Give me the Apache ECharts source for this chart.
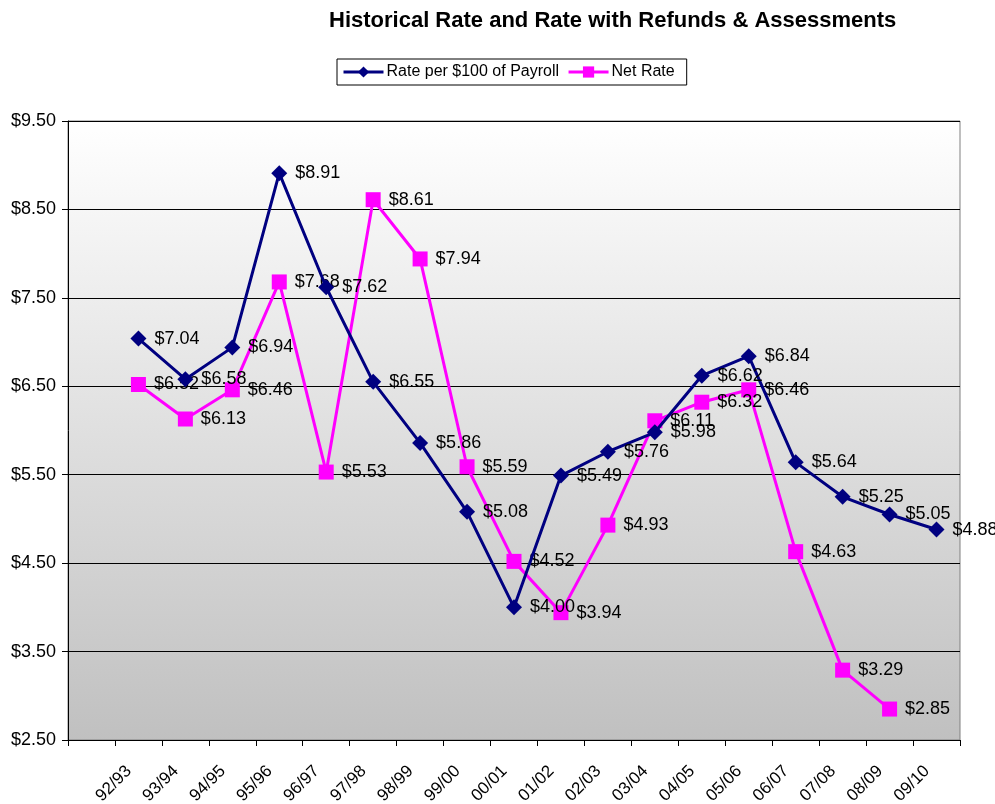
<!DOCTYPE html>
<html>
<head>
<meta charset="utf-8">
<script src="https://cdn.jsdelivr.net/npm/echarts@6/dist/echarts.min.js"></script>
<style>
html,body{margin:0;padding:0;background:#fff;}
#chart{width:995px;height:804px;}
</style>
</head>
<body>
<div id="chart"></div>
<script>
const categories = ['92/93','93/94','94/95','95/96','96/97','97/98','98/99','99/00','00/01','01/02','02/03','03/04','04/05','05/06','06/07','07/08','08/09','09/10'];
const rateValues = [7.04,6.58,6.94,8.91,7.62,6.55,5.86,5.08,4.00,5.49,5.76,5.98,6.62,6.84,5.64,5.25,5.05,4.88];
const netValues  = [6.52,6.13,6.46,7.68,5.53,8.61,7.94,5.59,4.52,3.94,4.93,6.11,6.32,6.46,4.63,3.29,2.85,null];
const yTicks = [2.5,3.5,4.5,5.5,6.5,7.5,8.5,9.5];

const FONT = 'Liberation Sans, Arial, sans-serif';
// leading empty slot (the reference leaves the first category empty)
const cats = [''].concat(categories);
const rateData = [null].concat(rateValues);
const netData = [null].concat(netValues);

const chart = echarts.init(document.getElementById('chart'), null, {renderer:'canvas'});
const labelCfg = {
  show: true, position: 'right', distance: 8,
  color: '#000', fontSize: 18, fontFamily: FONT,
  formatter: p => '$' + Number(p.value).toFixed(2)
};
chart.setOption({
  backgroundColor: '#fff',
  animation: false,
  title: {
    text: 'Historical Rate and Rate with Refunds & Assessments',
    left: 324, top: 5,
    textStyle: {fontFamily: FONT, fontWeight: 'bold', fontSize: 22, color: '#000'}
  },
  legend: {
    top: 59, left: 337,
    padding: [5, 12, 5, 5],
    itemGap: 8,
    itemWidth: 40, itemHeight: 14,
    borderColor: '#000', borderWidth: 1,
    backgroundColor: '#fff',
    lineStyle: {width: 3},
    textStyle: {fontFamily: FONT, fontSize: 16, color: '#000', padding: [0,0,0,-2]},
    data: ['Rate per $100 of Payroll', 'Net Rate']
  },
  grid: {
    left: 68, right: 35, top: 121, bottom: 64,
    containLabel: false,
    outerBoundsMode: 'none',
    show: true,
    borderColor: '#808080', borderWidth: 1,
    backgroundColor: new echarts.graphic.LinearGradient(0,0,0,1,[
      {offset:0, color:'#ffffff'},
      {offset:1, color:'#c0c0c0'}
    ])
  },
  xAxis: {
    type: 'category',
    data: cats,
    boundaryGap: true,
    axisLine: {lineStyle: {color: '#000', width: 1}},
    axisTick: {show: true, interval: 0, length: 6, lineStyle: {color:'#000'}},
    axisLabel: {
      interval: 0, rotate: 45, margin: 31,
      verticalAlign: 'bottom',
      padding: [0, 5, 0, 0],
      color: '#000', fontSize: 17, fontFamily: FONT
    },
    splitLine: {show: false}
  },
  yAxis: {
    type: 'value',
    min: yTicks[0], max: yTicks[yTicks.length-1], interval: 1,
    axisLine: {show: true, lineStyle: {color: '#000', width: 1}},
    axisTick: {show: true, length: 6, lineStyle: {color:'#000'}},
    axisLabel: {
      margin: 12, color: '#000', fontSize: 18, fontFamily: FONT,
      formatter: v => '$' + v.toFixed(2)
    },
    splitLine: {show: true, lineStyle: {color: '#000', width: 1}}
  },
  series: [
    {
      name: 'Rate per $100 of Payroll',
      type: 'line',
      data: rateData,
      symbol: 'diamond', symbolSize: 16,
      lineStyle: {color: '#000080', width: 3},
      itemStyle: {color: '#000080'},
      label: labelCfg,
      z: 3
    },
    {
      name: 'Net Rate',
      type: 'line',
      data: netData,
      symbol: 'rect', symbolSize: 15,
      lineStyle: {color: '#FF00FF', width: 3},
      itemStyle: {color: '#FF00FF'},
      label: labelCfg,
      z: 2
    }
  ]
});
</script>
</body>
</html>
